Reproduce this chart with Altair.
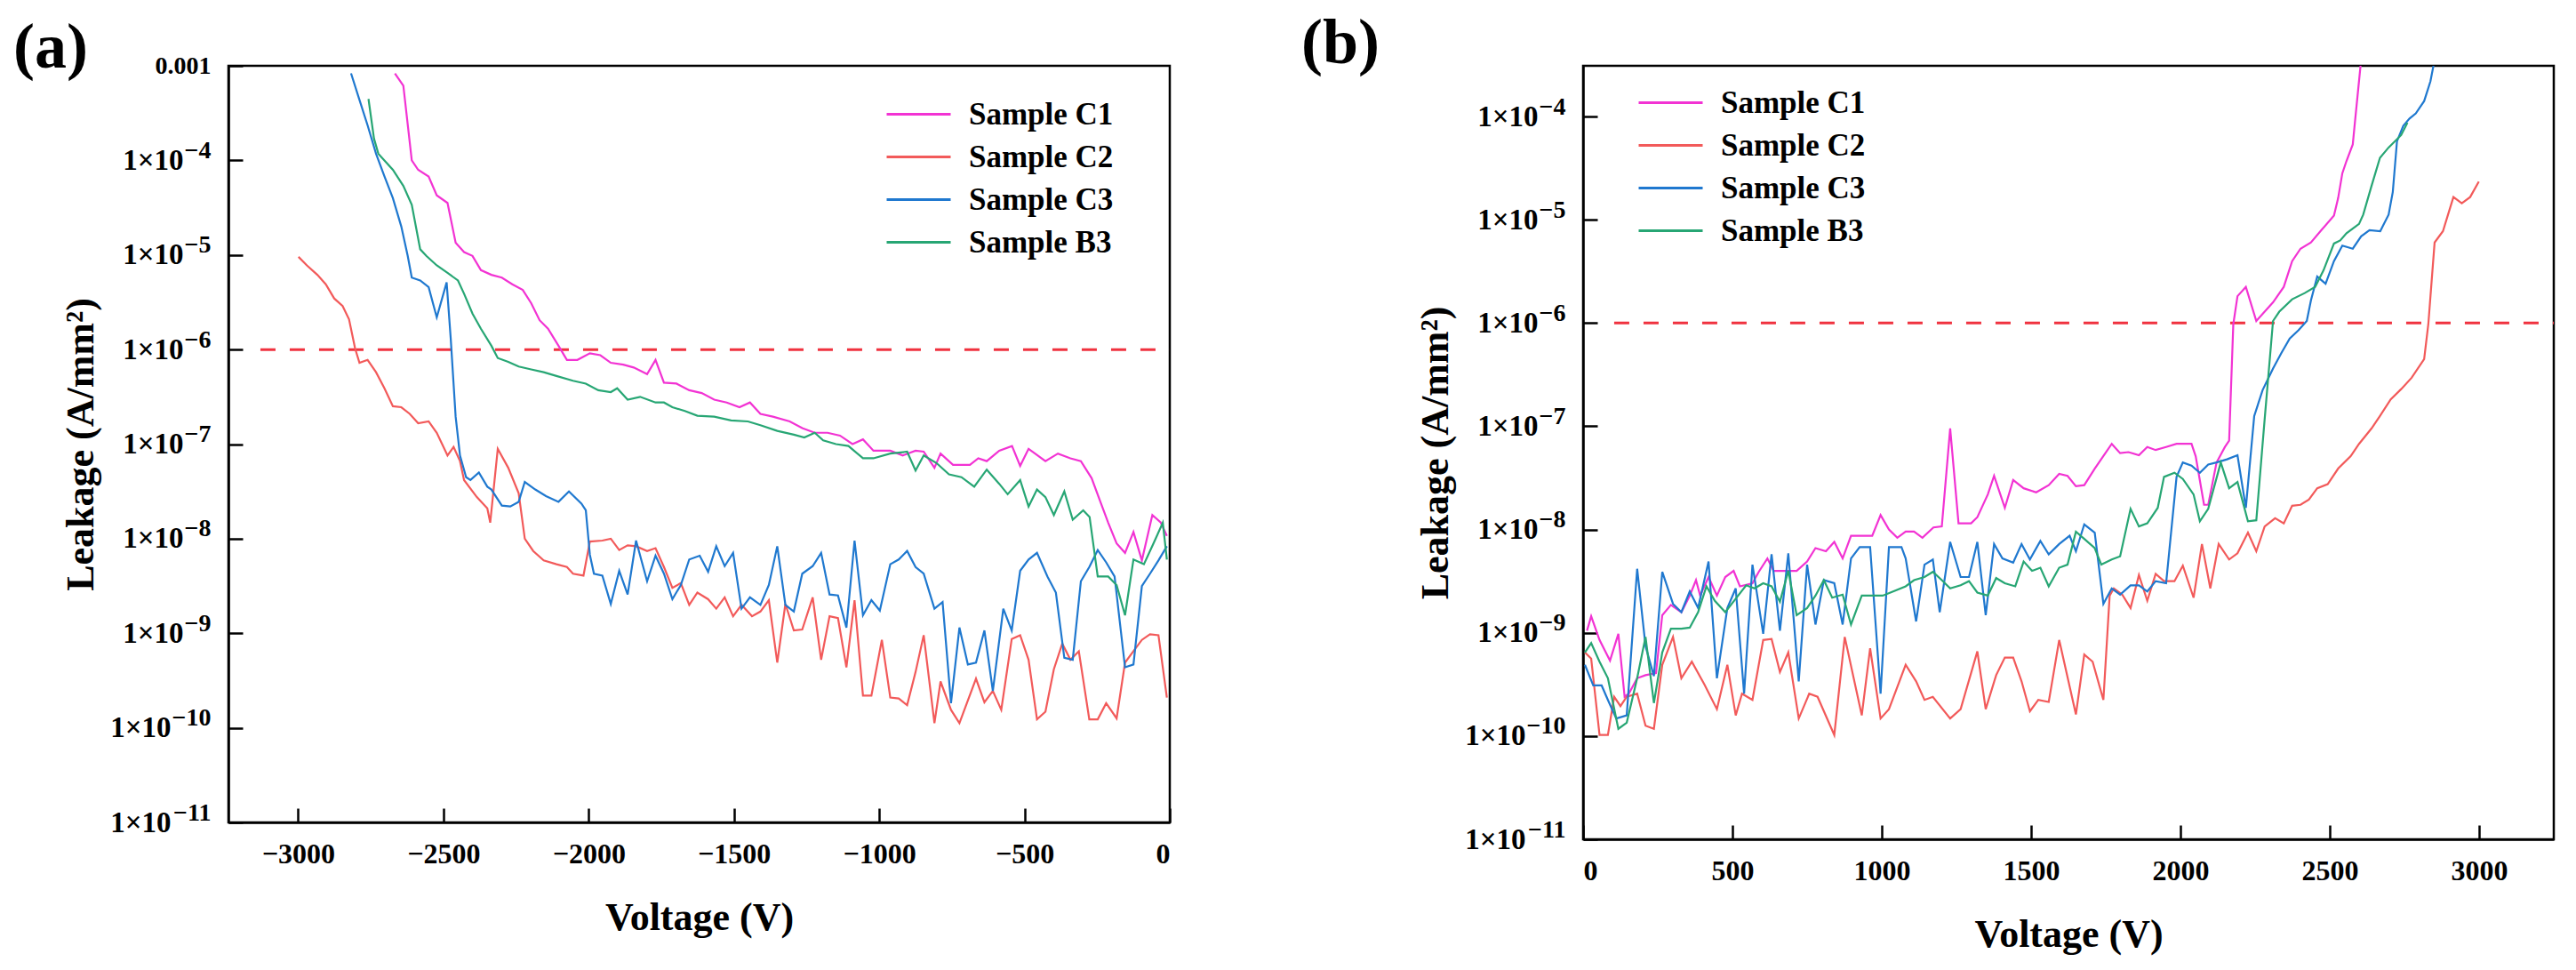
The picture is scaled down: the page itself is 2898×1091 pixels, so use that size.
import altair as alt
import pandas as pd

FONT = "Liberation Serif"
SERIES = ["Sample C1", "Sample C2", "Sample C3", "Sample B3"]
COLORS = ["#f233d3", "#f25a5a", "#1f78cf", "#27a674"]

# (voltage V, log10 of leakage A/mm2)
# panel (a): negative bias
a_c1 = [(-2667, -3.08), (-2638, -3.21), (-2609, -4.00), (-2587, -4.10), (-2551, -4.17), (-2523, -4.37),
        (-2486, -4.45), (-2458, -4.87), (-2429, -4.97), (-2400, -5.01), (-2371, -5.16), (-2335, -5.21),
        (-2299, -5.24), (-2263, -5.31), (-2227, -5.37), (-2198, -5.51), (-2169, -5.69), (-2140, -5.78),
        (-2104, -5.96), (-2075, -6.11), (-2039, -6.11), (-1996, -6.04), (-1960, -6.06), (-1924, -6.14),
        (-1881, -6.16), (-1845, -6.19), (-1799, -6.26), (-1770, -6.11), (-1741, -6.35), (-1698, -6.36),
        (-1654, -6.43), (-1611, -6.46), (-1568, -6.53), (-1525, -6.56), (-1481, -6.61), (-1445, -6.56),
        (-1409, -6.68), (-1366, -6.71), (-1308, -6.76), (-1265, -6.83), (-1222, -6.88), (-1178, -6.88),
        (-1135, -6.91), (-1092, -7.00), (-1056, -6.95), (-1020, -7.07), (-962, -7.07), (-919, -7.12),
        (-875, -7.07), (-847, -7.08), (-810, -7.25), (-789, -7.10), (-746, -7.22), (-688, -7.22),
        (-659, -7.15), (-630, -7.18), (-587, -7.07), (-543, -7.02), (-515, -7.23), (-486, -7.05),
        (-428, -7.18), (-385, -7.10), (-342, -7.15), (-306, -7.18), (-269, -7.36), (-240, -7.60),
        (-212, -7.83), (-183, -8.05), (-154, -8.15), (-125, -7.93), (-96, -8.23), (-60, -7.75),
        (-31, -7.83), (-10, -7.97)]

a_c2 = [(-2999, -5.02), (-2970, -5.11), (-2934, -5.21), (-2905, -5.31), (-2876, -5.46), (-2847, -5.54),
        (-2825, -5.68), (-2804, -5.99), (-2789, -6.14), (-2761, -6.11), (-2732, -6.24), (-2703, -6.41),
        (-2674, -6.60), (-2645, -6.61), (-2616, -6.68), (-2587, -6.78), (-2551, -6.76), (-2523, -6.88),
        (-2486, -7.12), (-2465, -7.03), (-2443, -7.18), (-2429, -7.38), (-2385, -7.56), (-2349, -7.68),
        (-2339, -7.83), (-2313, -7.05), (-2277, -7.25), (-2241, -7.52), (-2220, -8.00), (-2191, -8.13),
        (-2155, -8.23), (-2111, -8.27), (-2075, -8.30), (-2054, -8.37), (-2018, -8.39), (-1996, -8.03),
        (-1953, -8.02), (-1924, -8.00), (-1895, -8.12), (-1866, -8.07), (-1837, -8.08), (-1799, -8.13),
        (-1770, -8.10), (-1741, -8.30), (-1712, -8.52), (-1683, -8.47), (-1654, -8.70), (-1626, -8.57),
        (-1589, -8.64), (-1561, -8.74), (-1532, -8.62), (-1503, -8.82), (-1474, -8.70), (-1438, -8.82),
        (-1409, -8.77), (-1380, -8.65), (-1351, -9.31), (-1323, -8.69), (-1294, -8.97), (-1265, -8.96),
        (-1229, -8.62), (-1200, -9.28), (-1171, -8.82), (-1142, -8.84), (-1113, -9.36), (-1085, -8.65),
        (-1056, -9.66), (-1027, -9.66), (-991, -9.07), (-962, -9.68), (-933, -9.69), (-904, -9.76),
        (-875, -9.41), (-847, -9.02), (-810, -9.95), (-789, -9.51), (-753, -9.81), (-724, -9.95),
        (-695, -9.71), (-667, -9.48), (-638, -9.73), (-609, -9.61), (-580, -9.81), (-544, -9.06),
        (-515, -9.02), (-486, -9.28), (-457, -9.91), (-428, -9.83), (-399, -9.38), (-370, -9.11),
        (-342, -9.28), (-313, -9.19), (-277, -9.91), (-248, -9.91), (-219, -9.74), (-183, -9.90),
        (-154, -9.31), (-125, -9.19), (-96, -9.07), (-68, -9.01), (-39, -9.02), (-10, -9.68)]

a_c3 = [(-2818, -3.08), (-2789, -3.36), (-2761, -3.63), (-2732, -3.93), (-2703, -4.17), (-2674, -4.40),
        (-2645, -4.70), (-2623, -5.01), (-2609, -5.24), (-2580, -5.27), (-2551, -5.34), (-2523, -5.66),
        (-2489, -5.29), (-2475, -5.88), (-2458, -6.71), (-2443, -7.12), (-2422, -7.35), (-2407, -7.38),
        (-2378, -7.30), (-2349, -7.45), (-2335, -7.48), (-2299, -7.65), (-2270, -7.66), (-2241, -7.61),
        (-2220, -7.40), (-2184, -7.48), (-2147, -7.55), (-2104, -7.61), (-2068, -7.50), (-2025, -7.63),
        (-2010, -7.70), (-1996, -8.17), (-1982, -8.37), (-1953, -8.39), (-1924, -8.69), (-1895, -8.34),
        (-1866, -8.59), (-1837, -8.02), (-1799, -8.45), (-1770, -8.18), (-1741, -8.37), (-1712, -8.64),
        (-1683, -8.49), (-1654, -8.22), (-1618, -8.18), (-1589, -8.35), (-1561, -8.08), (-1532, -8.29),
        (-1503, -8.15), (-1474, -8.74), (-1445, -8.62), (-1409, -8.70), (-1380, -8.49), (-1351, -8.08),
        (-1323, -8.70), (-1294, -8.77), (-1265, -8.37), (-1229, -8.29), (-1200, -8.15), (-1171, -8.59),
        (-1142, -8.60), (-1113, -8.94), (-1085, -8.02), (-1056, -8.81), (-1027, -8.65), (-998, -8.76),
        (-962, -8.27), (-933, -8.22), (-904, -8.13), (-875, -8.30), (-847, -8.37), (-810, -8.74),
        (-782, -8.67), (-753, -9.74), (-724, -8.94), (-695, -9.33), (-667, -9.31), (-638, -8.97),
        (-609, -9.61), (-573, -8.74), (-544, -8.97), (-515, -8.34), (-486, -8.22), (-457, -8.15),
        (-421, -8.40), (-392, -8.57), (-363, -9.26), (-334, -9.28), (-306, -8.45), (-277, -8.30),
        (-248, -8.12), (-219, -8.25), (-190, -8.40), (-154, -9.36), (-125, -9.33), (-96, -8.50),
        (-68, -8.37), (-39, -8.23), (-10, -8.08)]

a_b3 = [(-2758, -3.35), (-2739, -3.77), (-2724, -3.93), (-2674, -4.10), (-2638, -4.27), (-2609, -4.47),
        (-2580, -4.94), (-2559, -5.01), (-2523, -5.11), (-2486, -5.19), (-2450, -5.27), (-2429, -5.41),
        (-2400, -5.62), (-2371, -5.78), (-2335, -5.96), (-2313, -6.09), (-2277, -6.13), (-2241, -6.18),
        (-2198, -6.21), (-2155, -6.24), (-2111, -6.28), (-2054, -6.33), (-2010, -6.36), (-1967, -6.43),
        (-1924, -6.45), (-1902, -6.41), (-1866, -6.53), (-1823, -6.50), (-1770, -6.56), (-1741, -6.56),
        (-1712, -6.61), (-1669, -6.65), (-1626, -6.70), (-1568, -6.71), (-1510, -6.75), (-1452, -6.76),
        (-1409, -6.80), (-1351, -6.86), (-1294, -6.90), (-1258, -6.93), (-1222, -6.88), (-1193, -6.96),
        (-1149, -7.00), (-1106, -7.02), (-1056, -7.15), (-1020, -7.15), (-962, -7.10), (-904, -7.08),
        (-875, -7.28), (-847, -7.12), (-803, -7.20), (-760, -7.32), (-717, -7.35), (-673, -7.45),
        (-630, -7.27), (-587, -7.42), (-558, -7.53), (-515, -7.38), (-486, -7.66), (-457, -7.48),
        (-428, -7.56), (-399, -7.75), (-363, -7.50), (-334, -7.80), (-298, -7.70), (-276, -7.77),
        (-248, -8.40), (-212, -8.40), (-183, -8.49), (-154, -8.81), (-125, -8.22), (-89, -8.27),
        (-53, -8.03), (-24, -7.83), (-10, -8.22)]

# panel (b): positive bias
b_c1 = [(13, -8.98), (27, -8.84), (55, -9.07), (90, -9.27), (118, -9.01), (139, -9.62), (153, -9.59),
        (181, -9.44), (209, -9.41), (244, -9.39), (265, -8.83), (294, -8.73), (329, -8.80), (357, -8.64),
        (378, -8.49), (392, -8.64), (420, -8.46), (448, -8.64), (476, -8.46), (504, -8.40), (525, -8.55),
        (567, -8.52), (588, -8.41), (617, -8.28), (638, -8.40), (659, -8.40), (687, -8.40), (715, -8.40),
        (750, -8.31), (778, -8.18), (813, -8.21), (841, -8.12), (869, -8.28), (897, -8.06), (940, -8.06),
        (968, -8.06), (996, -7.86), (1024, -8.00), (1052, -8.08), (1080, -8.02), (1108, -8.02),
        (1136, -8.08), (1173, -7.98), (1201, -7.97), (1229, -7.02), (1257, -7.94), (1299, -7.94),
        (1320, -7.88), (1355, -7.66), (1376, -7.48), (1412, -7.79), (1440, -7.52), (1475, -7.60),
        (1517, -7.64), (1559, -7.57), (1594, -7.46), (1622, -7.48), (1650, -7.58), (1678, -7.57),
        (1713, -7.41), (1770, -7.17), (1798, -7.26), (1826, -7.25), (1861, -7.28), (1889, -7.20),
        (1917, -7.23), (1952, -7.20), (1987, -7.17), (2037, -7.17), (2051, -7.29), (2079, -7.76),
        (2093, -7.76), (2121, -7.35), (2149, -7.20), (2163, -7.14), (2177, -6.01), (2191, -5.74),
        (2219, -5.65), (2254, -5.98), (2282, -5.89), (2310, -5.80), (2346, -5.65), (2374, -5.40),
        (2402, -5.28), (2437, -5.22), (2472, -5.10), (2514, -4.96), (2528, -4.79), (2542, -4.55),
        (2556, -4.43), (2577, -4.27), (2584, -4.06), (2605, -3.45)]

b_c2 = [(6, -9.19), (27, -9.25), (55, -9.99), (83, -9.99), (104, -9.62), (125, -9.71), (146, -9.62),
        (181, -9.59), (209, -9.90), (237, -9.93), (265, -9.31), (301, -9.04), (329, -9.44), (364, -9.28),
        (406, -9.50), (448, -9.74), (483, -9.31), (511, -9.80), (532, -9.59), (567, -9.65), (603, -9.07),
        (631, -9.06), (659, -9.38), (687, -9.19), (722, -9.83), (757, -9.59), (785, -9.62), (841, -9.99),
        (876, -9.04), (933, -9.80), (961, -9.15), (996, -9.83), (1024, -9.74), (1080, -9.31),
        (1115, -9.47), (1143, -9.65), (1171, -9.62), (1229, -9.83), (1264, -9.74), (1320, -9.18),
        (1348, -9.74), (1383, -9.41), (1412, -9.24), (1440, -9.24), (1468, -9.47), (1496, -9.76),
        (1524, -9.65), (1559, -9.67), (1594, -9.07), (1650, -9.79), (1678, -9.21), (1706, -9.28),
        (1742, -9.65), (1763, -8.64), (1777, -8.57), (1805, -8.63), (1833, -8.76), (1861, -8.44),
        (1889, -8.69), (1917, -8.43), (1945, -8.50), (1980, -8.50), (2008, -8.35), (2044, -8.66),
        (2072, -8.14), (2100, -8.57), (2128, -8.14), (2163, -8.29), (2191, -8.23), (2226, -8.03),
        (2254, -8.21), (2282, -7.97), (2317, -7.89), (2346, -7.94), (2374, -7.77), (2402, -7.76),
        (2430, -7.71), (2458, -7.60), (2493, -7.56), (2528, -7.41), (2570, -7.29), (2598, -7.17),
        (2640, -7.02), (2668, -6.90), (2704, -6.74), (2739, -6.64), (2774, -6.53), (2816, -6.35),
        (2830, -6.01), (2851, -5.22), (2879, -5.11), (2914, -4.78), (2942, -4.84), (2970, -4.78),
        (2999, -4.63)]

b_c3 = [(6, -9.31), (34, -9.51), (62, -9.51), (83, -9.65), (111, -9.83), (146, -9.80), (181, -8.38),
        (209, -9.13), (237, -9.42), (265, -8.41), (301, -8.72), (329, -8.80), (357, -8.60), (385, -8.76),
        (420, -8.31), (448, -9.44), (483, -8.76), (511, -8.57), (539, -9.59), (567, -8.34), (603, -9.01),
        (631, -8.24), (659, -8.98), (687, -8.23), (722, -9.47), (750, -8.34), (778, -8.92), (806, -8.49),
        (841, -8.52), (869, -8.92), (897, -8.28), (926, -8.17), (961, -8.17), (996, -9.59), (1024, -8.17),
        (1066, -8.17), (1080, -8.28), (1115, -8.89), (1143, -8.34), (1171, -8.29), (1194, -8.80),
        (1229, -8.12), (1264, -8.46), (1292, -8.46), (1320, -8.12), (1348, -8.83), (1376, -8.14),
        (1404, -8.28), (1440, -8.32), (1468, -8.14), (1496, -8.29), (1531, -8.11), (1559, -8.24),
        (1594, -8.14), (1629, -8.06), (1650, -8.21), (1678, -7.95), (1713, -8.03), (1742, -8.72),
        (1770, -8.57), (1798, -8.63), (1833, -8.54), (1861, -8.54), (1889, -8.60), (1917, -8.50),
        (1952, -8.52), (1987, -7.49), (2008, -7.35), (2037, -7.38), (2065, -7.45), (2093, -7.37),
        (2121, -7.35), (2156, -7.32), (2191, -7.28), (2219, -7.79), (2247, -6.90), (2275, -6.65),
        (2310, -6.44), (2338, -6.29), (2366, -6.15), (2395, -6.07), (2423, -5.98), (2437, -5.78),
        (2458, -5.55), (2486, -5.62), (2514, -5.40), (2542, -5.25), (2577, -5.28), (2605, -5.16),
        (2633, -5.10), (2669, -5.11), (2697, -4.95), (2711, -4.73), (2725, -4.24), (2746, -4.09),
        (2767, -4.02), (2788, -3.97), (2816, -3.85), (2837, -3.66), (2851, -3.45)]

b_b3 = [(6, -9.19), (27, -9.10), (55, -9.28), (83, -9.44), (118, -9.93), (146, -9.87), (181, -9.44),
        (209, -9.04), (237, -9.68), (265, -9.19), (294, -8.96), (329, -8.96), (357, -8.95), (385, -8.80),
        (413, -8.55), (441, -8.69), (476, -8.80), (511, -8.67), (546, -8.54), (574, -8.57), (603, -8.52),
        (631, -8.55), (659, -8.70), (687, -8.40), (715, -8.83), (750, -8.76), (778, -8.64), (806, -8.49),
        (834, -8.66), (869, -8.63), (897, -8.92), (933, -8.64), (968, -8.64), (1003, -8.64), (1038, -8.60),
        (1080, -8.55), (1108, -8.49), (1143, -8.46), (1171, -8.41), (1201, -8.49), (1229, -8.57),
        (1264, -8.54), (1292, -8.50), (1320, -8.61), (1355, -8.64), (1383, -8.47), (1412, -8.52),
        (1447, -8.55), (1475, -8.31), (1503, -8.40), (1531, -8.37), (1559, -8.55), (1594, -8.37),
        (1622, -8.34), (1650, -8.02), (1678, -8.09), (1713, -8.18), (1735, -8.34), (1770, -8.29),
        (1798, -8.26), (1833, -7.80), (1861, -7.97), (1889, -7.94), (1924, -7.79), (1945, -7.49),
        (1980, -7.45), (2008, -7.51), (2044, -7.66), (2065, -7.92), (2093, -7.80), (2135, -7.35),
        (2163, -7.60), (2191, -7.54), (2226, -7.92), (2254, -7.91), (2282, -6.93), (2310, -5.98),
        (2331, -5.89), (2374, -5.77), (2416, -5.71), (2451, -5.65), (2479, -5.49), (2514, -5.23),
        (2535, -5.20), (2556, -5.13), (2598, -5.04), (2612, -4.95), (2640, -4.67), (2668, -4.40),
        (2697, -4.30), (2739, -4.18), (2760, -4.06)]

# 1e-6 A/mm2 limit line: start and end voltage
a_limit = (-3130, 0)
b_limit = (104, 3250)
LIMIT = 1e-6

a_x_ticks = [-3000, -2500, -2000, -1500, -1000, -500, 0]
b_x_ticks = [0, 500, 1000, 1500, 2000, 2500, 3000]
y_ticks = [1e-3, 1e-4, 1e-5, 1e-6, 1e-7, 1e-8, 1e-9, 1e-10, 1e-11]
y_exponents = [-3, -4, -5, -6, -7, -8, -9, -10, -11]
# tick labels: mantissa part and raised exponent part
y_base_labels = ["", "1×10", "1×10", "1×10", "1×10", "1×10", "1×10", "1×10", "1×10"]
y_exp_labels = ["0.001", "−4", "−5", "−6", "−7", "−8", "−9", "−10", "−11"]


def make_frame(series):
    rows = []
    for name, pts in zip(SERIES, series):
        for i, (v, e) in enumerate(pts):
            rows.append({"sample": name, "voltage": v, "leakage": 10 ** e, "idx": i})
    return pd.DataFrame(rows)


def label_expr(labels):
    exp = "round(log(datum.value) / LN10)"
    expr = "''"
    for e, lab in zip(y_exponents[::-1], labels[::-1]):
        expr = f"{exp} == {e} ? '{lab}' : " + expr
    return expr


def panel(series, limit, x_dom, x_ticks, y_dom, y_vals, w, h, tag, tag_dx, tag_dy, leg_x, leg_y):
    df = make_frame(series)
    scale_y = alt.Scale(type="log", domain=y_dom, nice=False)
    x = alt.X("voltage:Q", scale=alt.Scale(domain=x_dom, nice=False, zero=False),
              axis=alt.Axis(values=x_ticks, format="d", title="Voltage (V)", titlePadding=34))
    y_main = alt.Y("leakage:Q", scale=scale_y,
                   axis=alt.Axis(orient="left", values=y_vals, labelExpr=label_expr(y_base_labels),
                                 title="Leakage (A/mm²)", titlePadding=10, labelFontSize=33,
                                 labelPadding={"condition": {"test": "datum.value < 5e-10", "value": 81},
                                               "value": 67}))
    y_exp = alt.Y("leakage:Q", scale=scale_y,
                  axis=alt.Axis(orient="left", values=y_vals, labelExpr=label_expr(y_exp_labels),
                                title=None, ticks=False, domain=False, labelPadding=20, labelFontSize=28,
                                labelOffset={"condition": {"test": "datum.value > 5e-4", "value": 0},
                                             "value": -11}))
    limit_df = pd.DataFrame({"voltage": [limit[0]], "voltage_end": [limit[1]], "leakage": [LIMIT]})
    rule = alt.Chart(limit_df).mark_rule(color="#f0323f", strokeWidth=3, strokeDash=[17, 16]).encode(
        x=x, x2="voltage_end:Q", y=y_exp
    )
    lines = alt.Chart(df).mark_line(strokeWidth=2.2, clip=True).encode(
        x=x,
        y=y_main,
        color=alt.Color("sample:N", scale=alt.Scale(domain=SERIES, range=COLORS),
                        legend=alt.Legend(title=None, orient="none", legendX=leg_x, legendY=leg_y,
                                          symbolType="M-2,0H2", symbolSize=1296, symbolStrokeWidth=3,
                                          labelFont=FONT, labelFontSize=35, labelFontWeight="bold",
                                          labelColor="black", labelOffset=37, labelLimit=0,
                                          rowPadding=10, padding=0)),
        order="idx:Q",
    )
    return alt.layer(rule, lines).resolve_axis(y="independent").properties(
        width=w, height=h,
        title=alt.TitleParams(tag, anchor="start", frame="group", dx=tag_dx, dy=tag_dy,
                              baseline="alphabetic", font=FONT, fontSize=72, fontWeight="bold",
                              color="black"),
    )


chart_a = panel([a_c1, a_c2, a_c3, a_b3], a_limit, [-3240, 0], a_x_ticks, [1e-11, 1e-3], y_ticks,
                1059, 851, "(a)", -242, 92, 757, 35)
chart_b = panel([b_c1, b_c2, b_c3, b_b3], b_limit, [0, 3250], b_x_ticks, [1e-11, 3.1e-4], y_ticks[1:],
                1092, 870, "(b)", -317, 73, 79, 22)

chart = alt.hconcat(chart_a, chart_b, spacing=143).resolve_scale(
    x="independent", y="independent", color="independent"
).properties(
    padding={"left": 5, "top": 3, "right": 0, "bottom": 0}
).configure_view(
    stroke="black", strokeWidth=2.5
).configure_axis(
    grid=False, domainColor="black", domainWidth=2.5, tickColor="black", tickWidth=2.5,
    tickSize={"expr": "-16"}, labelPadding=36, labelFont=FONT, labelFontSize=32, labelFontWeight="bold",
    labelColor="black", titleFont=FONT, titleFontSize=44, titleFontWeight="bold", titleColor="black"
)

chart.save("out.html", embed_options={"renderer": "svg", "actions": False})
